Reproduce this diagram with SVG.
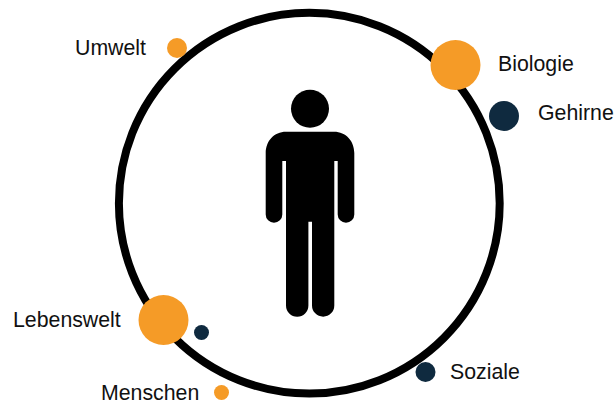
<svg xmlns="http://www.w3.org/2000/svg" width="614" height="400" viewBox="0 0 614 400">
<style>
.o{fill:#f59b27}.n{fill:#0f2a3f}
text{font-family:"Liberation Sans",Arial,sans-serif;font-size:21.3px;fill:#111}
</style>
<rect width="614" height="400" fill="#fff"/>
<g id="ring"><circle cx="309.300" cy="203.200" r="190.400" fill="none" stroke="#000" stroke-width="8"/></g>
<g id="person">
<circle cx="310" cy="108.800" r="19"/>
<path d="M286 131.700H334C346 131.700 354.300 141 354.300 153V214.400A8.300 8.300 0 0 1 337.700 214.400V161H334.300V305.500A11.100 11.100 0 0 1 312 305.500V221.700H308.400V305.500A11.200 11.200 0 0 1 286 305.500V161H282.300V214.400A8.300 8.300 0 0 1 265.700 214.400V153C265.700 141 274 131.700 286 131.700Z"/>
</g>
<g id="connectors"></g>
<g id="umwelt"><circle class="o" cx="177" cy="48" r="10"/><text x="75" y="55">Umwelt</text></g>
<g id="biologie"><circle class="o" cx="455.500" cy="65" r="25"/><text x="498" y="71">Biologie</text></g>
<g id="gehirne"><circle class="n" cx="504" cy="116" r="15"/><text x="538" y="120">Gehirne</text></g>
<g id="lebenswelt"><circle class="o" cx="163.500" cy="320" r="25"/><text x="13" y="327">Lebenswelt</text></g>
<g id="lebenswelt-dot"><circle class="n" cx="201.500" cy="332.500" r="7.500"/></g>
<g id="menschen"><circle class="o" cx="221.500" cy="392.500" r="7.500"/><text x="101" y="399.500">Menschen</text></g>
<g id="soziale"><circle class="n" cx="425.500" cy="372" r="10"/><text x="450" y="379">Soziale</text></g>
</svg>
